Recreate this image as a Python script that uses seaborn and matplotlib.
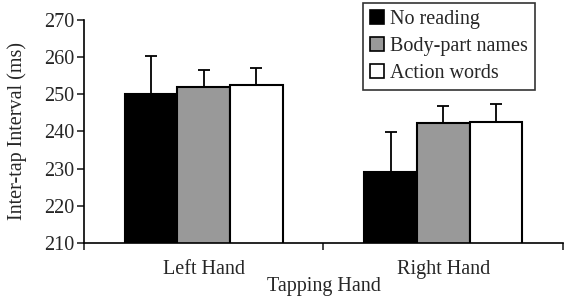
"""
Inter-tap interval by tapping hand and reading condition
"""
import pandas as pd
import numpy as np
import matplotlib.pyplot as plt
import seaborn as sns
from matplotlib.patches import Patch

# Data
hands = ['Left Hand', 'Right Hand']
conditions = ['No reading', 'Body-part names', 'Action words']
no_reading = [249.9, 229.2]
body_part = [251.8, 242.2]
action_words = [252.4, 242.5]
err_no_reading = [10.4, 10.5]
err_body_part = [4.7, 4.6]
err_action_words = [4.6, 4.8]

colors = ['black', '#999999', 'white']
FS = 14.5


def main():
    df = pd.DataFrame({
        'Hand': hands * 3,
        'Condition': np.repeat(conditions, 2),
        'ITI': no_reading + body_part + action_words,
        'Err': err_no_reading + err_body_part + err_action_words,
    })

    sns.set_style('white')
    plt.rcParams['font.family'] = ['Liberation Serif', 'DejaVu Serif']

    fig = plt.figure(figsize=(5.67, 2.96), dpi=100)
    ax = fig.add_axes([0.148, 0.179, 0.845, 0.755])

    sns.barplot(data=df, x='Hand', y='ITI', hue='Condition', order=hands,
                hue_order=conditions, palette=colors, width=0.66,
                edgecolor='black', linewidth=1.5, errorbar=None,
                legend=False, ax=ax)

    # one-sided (upward) error bars, placed on each bar
    for cond, patches in zip(conditions, ax.containers):
        sub = df[df['Condition'] == cond].set_index('Hand').loc[hands]
        xs = [p.get_x() + p.get_width() / 2 for p in patches]
        ax.errorbar(xs, sub['ITI'], yerr=[np.zeros(len(xs)), sub['Err']],
                    fmt='none', ecolor='black', elinewidth=1.3,
                    capsize=4, capthick=1.3, zorder=3)

    ax.set_ylim(210, 270)
    ax.set_yticks(range(210, 271, 10))
    ax.set_xlim(-0.5, 1.5)
    ax.set_xticks([0, 1])
    ax.set_xticklabels(hands)
    ax.set_xticks([-0.5, 0.5, 1.5], minor=True)
    ax.tick_params(axis='x', which='major', length=0, pad=12, labelsize=FS)
    ax.tick_params(axis='x', which='minor', length=5, width=1.2, direction='out',
                   bottom=True)
    ax.tick_params(axis='y', length=5, width=1.2, direction='out', left=True,
                   labelsize=FS, pad=2)

    for s in ['top', 'right']:
        ax.spines[s].set_visible(False)
    for s in ['left', 'bottom']:
        ax.spines[s].set_color('black')
        ax.spines[s].set_linewidth(1.2)

    ax.set_ylabel('Inter-tap Interval (ms)', fontsize=FS, labelpad=12)
    ax.set_xlabel('Tapping Hand', fontsize=FS, labelpad=-1)

    handles = [Patch(facecolor=c, edgecolor='black', linewidth=1.2) for c in colors]
    leg = ax.legend(handles, conditions, loc='upper left',
                    bbox_to_anchor=(0.582, 1.074), fontsize=FS, frameon=True,
                    fancybox=False, edgecolor='black', handlelength=0.7,
                    handleheight=0.7, handletextpad=0.3, borderpad=0.35,
                    labelspacing=0.4, borderaxespad=0)
    leg.get_frame().set_linewidth(1.2)

    plt.savefig('out.png', dpi=100)


if __name__ == '__main__':
    main()
